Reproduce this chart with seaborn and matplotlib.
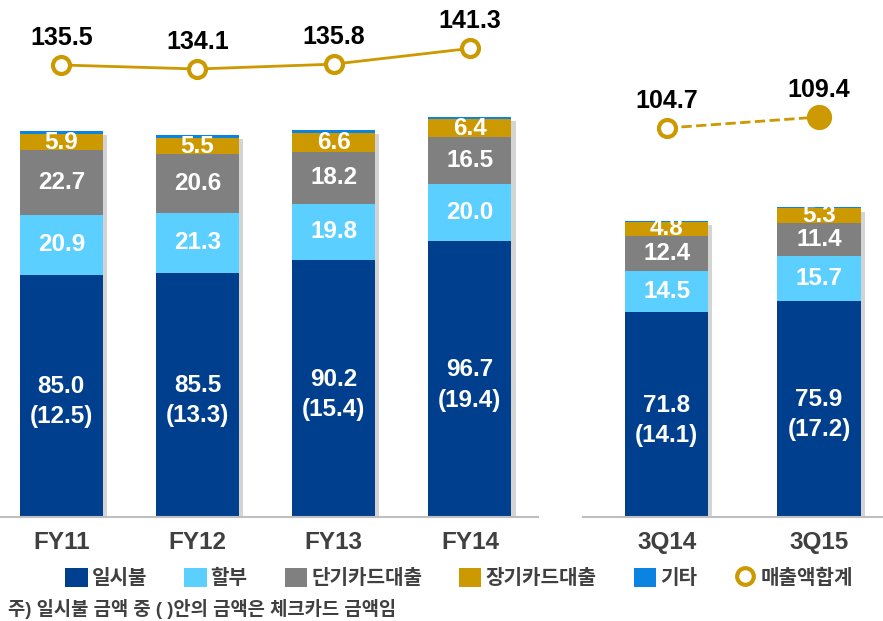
import numpy as np
import matplotlib.pyplot as plt
import matplotlib.patheffects as pe
from matplotlib.patches import Patch
from matplotlib.lines import Line2D
import seaborn as sns

# categories
fy_years = ["FY11", "FY12", "FY13", "FY14"]
q_years = ["3Q14", "3Q15"]

series_names = ["일시불", "할부", "단기카드대출", "장기카드대출", "기타"]
line_name = "매출액합계"

# annual values
fy_lump = [85.0, 85.5, 90.2, 96.7]
fy_check = [12.5, 13.3, 15.4, 19.4]
fy_install = [20.9, 21.3, 19.8, 20.0]
fy_short = [22.7, 20.6, 18.2, 16.5]
fy_long = [5.9, 5.5, 6.6, 6.4]
fy_etc = [1.0, 1.2, 1.0, 0.8]
fy_total = [135.5, 134.1, 135.8, 141.3]
fy_filled = [False, False, False, False]

# quarter values
q_lump = [71.8, 75.9]
q_check = [14.1, 17.2]
q_install = [14.5, 15.7]
q_short = [12.4, 11.4]
q_long = [4.8, 5.3]
q_etc = [0.5, 0.3]
q_total = [104.7, 109.4]
q_filled = [False, True]

colors = ["#003F8E", "#5BCFFF", "#808080", "#CC9900", "#0A84E0"]
gold = "#CC9900"

sns.set_theme(style="white")
plt.rcParams['font.family'] = ['Liberation Sans', 'Noto Sans CJK KR', 'DejaVu Sans']

fig = plt.figure(figsize=(8.83, 6.21), dpi=100)

bottom = (621 - 517) / 621
height = 517 / 621
ax_fy = fig.add_axes([0, bottom, 538 / 883, height])
ax_q = fig.add_axes([583 / 883, bottom, 300 / 883, height])


def draw_panel(ax, cats, parts, check, total, filled, width, xlim, line_ylim, dashed):
    parts = np.array(parts)
    cum = np.cumsum(parts, axis=0)
    n = len(cats)
    # stacked bars: draw the cumulative totals from top layer down
    for i in range(len(parts) - 1, -1, -1):
        before = len(ax.patches)
        sns.barplot(x=cats, y=cum[i], color=colors[i], width=width, saturation=1,
                    linewidth=0, order=cats, ax=ax)
        if i == len(parts) - 1:
            for p in ax.patches[before:]:
                p.set_path_effects([pe.withSimplePatchShadow(offset=(3, -3), shadow_rgbFace="#a0a0a0", alpha=0.45)])

    # segment labels
    for i in range(4):
        for j in range(n):
            v = parts[i][j]
            y = cum[i][j] - v / 2
            if i == 0:
                txt = f"{v:.1f}\n({check[j]:.1f})"
                y -= 2
            else:
                txt = f"{v:.1f}"
            ax.text(j, y, txt, ha="center", va="center", color="white",
                    fontsize=17.5, fontweight="bold", linespacing=1.4)

    ax.set_ylim(0, 517 / 2.85)
    ax.set_xlim(*xlim)
    ax.set_xlabel("")
    ax.set_ylabel("")
    ax.set_yticks([])
    ax.tick_params(axis="x", length=0, pad=10, labelsize=17.5, labelcolor="#404040")
    for lab in ax.get_xticklabels():
        lab.set_fontweight("bold")
    for s in ["left", "right", "top"]:
        ax.spines[s].set_visible(False)
    ax.spines["bottom"].set_color("#BFBFBF")
    ax.spines["bottom"].set_linewidth(1.5)
    ax.patch.set_alpha(0)

    # total line on its own scale
    tw = ax.twinx()
    xs = np.arange(n)
    sns.lineplot(x=xs, y=total, ax=tw, color=gold, linewidth=2,
                 linestyle="--" if dashed else "-", zorder=2)
    open_x = [x for x, f in zip(xs, filled) if not f]
    open_y = [v for v, f in zip(total, filled) if not f]
    sns.scatterplot(x=open_x, y=open_y, ax=tw, s=150, facecolor="white",
                    edgecolor=gold, linewidth=3, zorder=3)
    fill_x = [x for x, f in zip(xs, filled) if f]
    fill_y = [v for v, f in zip(total, filled) if f]
    if fill_x:
        sns.scatterplot(x=fill_x, y=fill_y, ax=tw, s=330, color=gold,
                        edgecolor=gold, linewidth=0, zorder=3)
    for x, v in zip(xs, total):
        tw.annotate(f"{v:.1f}", (x, v), xytext=(0, 19.5), textcoords="offset points",
                    ha="center", va="center", fontsize=18, fontweight="bold", color="black")
    tw.set_ylim(*line_ylim)
    tw.set_xlim(*xlim)
    tw.set_yticks([])
    tw.set_ylabel("")
    for s in tw.spines.values():
        s.set_visible(False)


draw_panel(ax_fy, fy_years, [fy_lump, fy_install, fy_short, fy_long, fy_etc], fy_check,
           fy_total, fy_filled, 0.61, (-0.45, 3.5),
           (135.5 - 452 / 2.85, 135.5 + 65 / 2.85), False)
draw_panel(ax_q, q_years, [q_lump, q_install, q_short, q_long, q_etc], q_check,
           q_total, q_filled, 0.546, (-0.55, 1.42),
           (104.7 - 389 / 2.34, 104.7 + 128 / 2.34), True)

handles = [Patch(facecolor=c, edgecolor="none") for c in colors]
handles.append(Line2D([], [], linestyle="none", marker="o", markersize=12,
                      markerfacecolor="white", markeredgecolor=gold, markeredgewidth=3))
leg = fig.legend(handles, series_names + [line_name], loc="center",
                 bbox_to_anchor=(0.52, 0.069), ncol=6, frameon=False,
                 fontsize=14.5, handlelength=1.1, handleheight=1.1,
                 handletextpad=0.2, columnspacing=1.85)
for t in leg.get_texts():
    t.set_fontweight("bold")
    t.set_color("#404040")

fig.text(0.009, 0.019, "주) 일시불 금액 중 ( )안의 금액은 체크카드 금액임",
         fontsize=13.5, fontweight="bold", color="#404040", ha="left", va="center")

fig.savefig("out.png", dpi=100)
